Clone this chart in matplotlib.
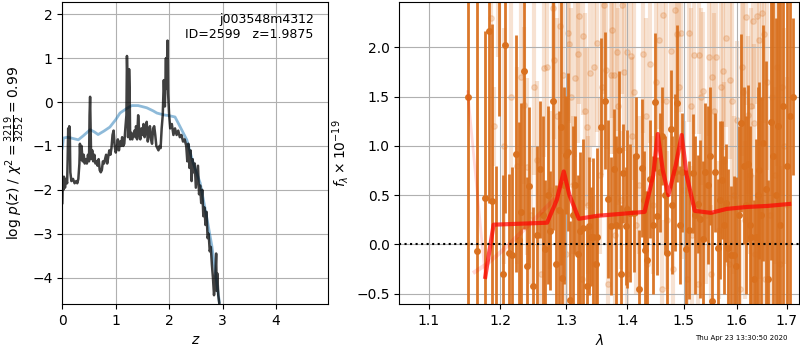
import numpy as np
import matplotlib
matplotlib.use('Agg')
import matplotlib.pyplot as plt
from matplotlib.ticker import ScalarFormatter, NullLocator, FixedLocator

# ---- p(z) panel ----
z_chi = [0.00, 0.01, 0.02, 0.03, 0.05, 0.07, 0.09, 0.10, 0.11, 0.12, 0.13, 0.14, 0.15, 0.17,
         0.20, 0.23, 0.26, 0.28, 0.30, 0.32, 0.33, 0.34, 0.36, 0.38, 0.40, 0.42, 0.44, 0.46,
         0.48, 0.50, 0.51, 0.52, 0.53, 0.54, 0.56, 0.58, 0.60, 0.62, 0.64, 0.66, 0.68, 0.70,
         0.72, 0.74, 0.76, 0.78, 0.80, 0.82, 0.84, 0.86, 0.88, 0.90, 0.92, 0.94, 0.96, 0.98,
         1.00, 1.02, 1.04, 1.06, 1.08, 1.10, 1.12, 1.14, 1.16, 1.18, 1.20, 1.21, 1.22, 1.23,
         1.24, 1.25, 1.26, 1.27, 1.29, 1.31, 1.33, 1.35, 1.37, 1.38, 1.40, 1.42, 1.44, 1.46,
         1.48, 1.50, 1.52, 1.54, 1.56, 1.58, 1.60, 1.62, 1.64, 1.66, 1.68, 1.70, 1.72, 1.74,
         1.76, 1.78, 1.80, 1.82, 1.84, 1.86, 1.88, 1.90, 1.92, 1.94, 1.95, 1.97, 1.98, 2.00,
         2.02, 2.05, 2.08, 2.11, 2.14, 2.17, 2.20, 2.23, 2.26, 2.29, 2.32, 2.34, 2.36, 2.38,
         2.40, 2.42, 2.44, 2.46, 2.48, 2.50, 2.52, 2.54, 2.56, 2.58, 2.60, 2.62, 2.64, 2.66,
         2.68, 2.70, 2.72, 2.74, 2.76, 2.78, 2.80, 2.82, 2.84, 2.86, 2.88, 2.89, 2.90, 2.92, 2.94]
logp = [-2.30, -1.75, -2.00, -1.70, -1.95, -1.75, -1.85, -1.30, -0.60, -1.10, -0.55, -0.70, -1.60, -1.80,
        -1.75, -1.85, -1.80, -1.85, -1.75, -1.40, -0.95, -1.30, -1.00, -1.35, -1.20, -1.40, -1.30, -1.40,
        -1.20, -1.35, -0.30, 0.12, -0.60, -1.30, -1.10, -1.35, -1.20, -1.40, -1.35, -1.45, -1.30, -1.55,
        -1.60, -1.55, -1.35, -1.40, -1.30, -1.20, -1.40, -1.25, -1.10, -1.20, -1.05, -0.75, -0.65, -1.00,
        -1.15, -1.05, -0.85, -1.10, -0.90, -1.00, -0.80, -1.00, -0.95, -0.60, -0.30, 1.05, 0.50, -0.80,
        -0.55, 0.75, 0.30, -0.85, -0.70, -0.85, -0.75, -0.65, -0.80, -0.55, -0.85, -0.30, -0.70, -0.85,
        -0.60, -0.75, -0.50, -0.80, -0.65, -0.45, -0.90, -0.70, -0.55, -0.85, -0.95, -0.60, -0.55, -0.75,
        -1.00, -1.05, -1.10, -1.00, -1.05, -0.60, -0.30, 0.50, -0.10, 1.00, 0.30, 1.40, 0.20, -0.30,
        -0.60, -0.50, -0.75, -0.60, -0.75, -0.65, -0.80, -0.75, -0.90, -0.85, -1.00, -1.35, -0.95, -1.50,
        -1.10, -1.80, -1.30, -1.60, -1.40, -1.95, -1.70, -1.45, -2.10, -1.90, -2.30, -2.00, -2.60, -2.40,
        -2.80, -2.50, -3.10, -3.00, -3.40, -3.30, -3.70, -4.00, -4.40, -4.10, -3.45, -4.30, -3.90, -4.40, -4.60]

z_prior = [0.00, 0.02, 0.10, 0.20, 0.30, 0.40, 0.52, 0.60, 0.67, 0.78, 0.89, 1.00, 1.08, 1.20, 1.30,
           1.42, 1.58, 1.70, 1.77, 1.89, 2.00, 2.11, 2.20, 2.33, 2.45, 2.58, 2.70, 2.80, 2.89, 2.94]
logp_prior = [-1.05, -0.82, -0.80, -0.83, -0.86, -0.76, -0.63, -0.68, -0.74, -0.66, -0.57, -0.40, -0.25, -0.15, -0.08,
              -0.08, -0.13, -0.20, -0.25, -0.29, -0.31, -0.34, -0.55, -0.86, -1.39, -1.84, -2.60, -3.28, -4.11, -4.56]

# ---- spectrum panel ----
wave1 = [1.153, 1.166, 1.178, 1.184, 1.188, 1.193, 1.198, 1.203, 1.207, 1.212, 1.217, 1.223, 1.228, 1.231,
         1.235, 1.240, 1.243, 1.248, 1.254, 1.259, 1.263, 1.267, 1.271, 1.275, 1.279, 1.284, 1.288, 1.291,
         1.293, 1.297, 1.300, 1.303, 1.306, 1.310, 1.314, 1.318, 1.322, 1.327, 1.333, 1.337, 1.340, 1.343,
         1.348, 1.350, 1.356, 1.362, 1.367, 1.372, 1.378, 1.381, 1.386, 1.390, 1.393, 1.398, 1.400, 1.405,
         1.411, 1.415, 1.420, 1.425, 1.429, 1.431, 1.434, 1.439, 1.444, 1.448, 1.451, 1.457, 1.461, 1.466,
         1.470, 1.476, 1.479, 1.483, 1.488, 1.492, 1.496, 1.503, 1.510, 1.516, 1.521, 1.526, 1.529, 1.535,
         1.539, 1.545, 1.549, 1.553, 1.557, 1.563, 1.568, 1.571, 1.575, 1.579, 1.583, 1.588, 1.594, 1.599,
         1.604, 1.608, 1.613, 1.617, 1.621, 1.625, 1.628, 1.634, 1.637, 1.641, 1.644, 1.648, 1.651, 1.657,
         1.661, 1.667, 1.672, 1.677, 1.682, 1.687, 1.693, 1.700, 1.706, 1.712]
flux1 = [1.50, -0.07, 0.47, 2.17, 0.44, -0.90, 2.60, -0.30, 2.02, -0.09, -0.11, 0.92, 0.04, 0.33,
         1.76, -0.22, 0.59, -0.42, 0.10, 0.76, 0.30, -0.05, 0.50, 0.14, 1.45, -0.20, 0.35, 1.19,
         -0.34, 0.60, 0.91, 0.94, -0.56, 0.30, 0.60, -0.10, 0.14, 0.17, -0.42, 0.19, 0.08, 0.08,
         -0.20, 0.08, 1.19, 1.46, 0.46, 0.19, 0.77, 0.20, 0.96, -0.30, 0.72, 0.19, 0.36, 0.32,
         0.32, 0.90, -0.45, 0.78, 0.45, -0.06, -0.16, 0.66, 0.20, 1.44, 0.29, 0.73, 1.10, 0.50,
         -0.09, 1.17, 0.40, 0.73, 1.43, 0.20, 0.73, -0.05, 0.15, 0.72, 0.30, 0.41, 0.26, 0.05,
         0.73, 0.60, 0.90, -0.57, 0.73, -0.04, 0.45, 0.65, 0.20, 0.42, -0.04, -0.11, -0.11, -0.22,
         0.30, 1.23, 0.80, 0.40, 0.82, 0.20, 0.08, -0.35, 0.07, 0.50, 0.75, 0.30, 1.03, 0.56,
         -0.35, 1.24, 0.90, 0.50, 1.20, 0.20, 1.40, 0.80, 1.30, 1.50]
err1 = [2.3, 2.6, 1.7, 1.75, 1.8, 1.7, 1.3, 1.0, 1.7, 0.8, 0.9, 1.2, 1.2, 1.1,
        1.6, 0.9, 0.8, 0.8, 0.9, 0.7, 1.0, 0.7, 0.9, 0.6, 1.3, 0.8, 1.0, 1.4,
        0.7, 1.0, 0.6, 0.8, 0.8, 0.9, 0.7, 0.8, 0.8, 0.9, 0.6, 0.7, 0.5, 0.8,
        0.5, 0.9, 0.9, 0.7, 0.8, 0.7, 0.6, 0.9, 0.8, 0.7, 0.5, 0.6, 0.8, 0.7,
        0.6, 0.6, 0.6, 0.7, 0.5, 0.6, 0.7, 0.6, 0.7, 0.7, 0.6, 0.6, 0.5, 0.6,
        0.6, 0.6, 0.7, 0.8, 0.8, 0.6, 0.6, 0.8, 0.7, 0.6, 0.8, 0.5, 0.8, 0.8,
        0.7, 0.8, 0.7, 0.9, 0.6, 0.7, 0.8, 0.6, 0.7, 0.6, 0.8, 0.7, 0.8, 0.9,
        0.9, 0.9, 0.8, 0.9, 0.8, 1.0, 0.7, 0.8, 1.0, 1.1, 0.9, 1.2, 1.2, 1.3,
        1.0, 1.4, 1.6, 1.8, 2.0, 2.5, 2.5, 2.0, 2.5, 0.8]

wave2 = [1.186, 1.190, 1.196, 1.205, 1.215, 1.225, 1.231, 1.235, 1.240, 1.245, 1.254, 1.260, 1.266, 1.270,
         1.275, 1.279, 1.281, 1.290, 1.295, 1.300, 1.302, 1.304, 1.310, 1.314, 1.318, 1.321, 1.325, 1.327,
         1.333, 1.335, 1.338, 1.344, 1.345, 1.350, 1.355, 1.361, 1.365, 1.368, 1.372, 1.375, 1.378, 1.380,
         1.382, 1.390, 1.391, 1.394, 1.399, 1.400, 1.406, 1.409, 1.415, 1.420, 1.427, 1.435, 1.439, 1.445,
         1.455, 1.460, 1.463, 1.470, 1.476, 1.480, 1.484, 1.488, 1.494, 1.500, 1.505, 1.509, 1.515, 1.519,
         1.525, 1.528, 1.535, 1.540, 1.546, 1.550, 1.552, 1.560, 1.565, 1.573, 1.575, 1.579, 1.585, 1.587,
         1.595, 1.600, 1.605, 1.610, 1.615, 1.617, 1.622, 1.625, 1.631, 1.634, 1.635, 1.640, 1.643, 1.645,
         1.649, 1.654, 1.655, 1.665, 1.675, 1.685, 1.695, 1.700,
         1.250, 1.285, 1.308, 1.330, 1.358, 1.385, 1.412, 1.432, 1.450, 1.467, 1.491, 1.513, 1.532,
         1.556, 1.569, 1.591, 1.612, 1.628, 1.660, 1.670, 1.680, 1.690]
flux2 = [2.30, 1.20, 2.50, 1.00, 1.50, 0.80, 1.70, 1.41, 0.79, 0.30, 0.86, -0.30, 1.79, 1.80,
         0.55, 2.40, 1.87, 2.22, 1.72, -0.10, 2.15, 2.03, 0.60, 1.69, 1.93, 2.32, -0.35, 2.11,
         1.19, 0.40, 1.74, 1.80, -0.20, 2.04, 0.70, 2.43, 1.77, -0.40, 1.72, 2.18, 1.72, 0.10,
         1.95, 0.45, 2.43, 1.75, 1.95, -0.30, 1.91, 1.10, 0.20, 0.60, 1.93, -0.20, 1.83, 0.40,
         2.07, -0.45, 2.33, 0.25, 1.96, -0.25, 2.38, 2.13, 2.14, 0.55, -0.35, 2.14, 0.10, 1.92,
         -0.40, 1.92, 1.56, 0.30, 1.90, -0.30, 1.70, 1.90, 0.15, 1.76, 0.85, 2.09, -0.20, 1.67,
         0.50, 1.26, -0.45, 1.80, 0.25, 2.31, 1.31, 0.70, 2.27, 1.23, -0.10, 2.32, 2.07, 0.45,
         2.35, 2.13, -0.35, 0.30, 0.70, -0.20, 1.00, 0.40,
         1.60, 1.30, 1.50, 1.35, 1.60, 1.40, 1.55, 1.30, 1.65, 1.45, 1.60, 1.40, 1.50,
         1.35, 1.60, 1.45, 1.55, 1.40, 1.65, 1.50, 1.80, 1.60]
err2 = [0.3, 0.4, 0.6, 1.2, 1.0, 1.0, 0.9, 0.8, 0.9, 0.7, 0.8, 0.8, 0.9, 0.8,
        0.8, 0.9, 0.8, 0.9, 0.8, 0.8, 0.9, 0.8, 0.7, 0.8, 0.9, 0.9, 0.8, 0.8,
        0.8, 0.7, 0.9, 0.8, 0.7, 0.9, 0.8, 0.9, 0.8, 0.7, 0.8, 0.9, 0.8, 0.7,
        0.8, 0.7, 0.9, 0.8, 0.8, 0.7, 0.9, 0.8, 0.7, 0.7, 0.8, 0.7, 0.8, 0.7,
        0.9, 0.7, 0.9, 0.7, 0.8, 0.7, 0.9, 0.8, 0.8, 0.7, 0.7, 0.9, 0.7, 0.8,
        0.7, 0.8, 0.8, 0.7, 0.8, 0.7, 0.8, 0.9, 0.7, 0.8, 0.8, 0.9, 0.7, 0.8,
        0.8, 0.8, 0.7, 0.9, 0.8, 0.9, 0.8, 0.8, 0.9, 0.8, 0.8, 0.9, 0.9, 0.8,
        0.9, 0.9, 0.8, 0.9, 0.9, 1.0, 1.2, 1.3,
        0.9, 1.0, 0.9, 1.0, 0.9, 1.0, 0.9, 1.0, 0.9, 1.0, 0.9, 1.0, 0.9,
        1.0, 0.9, 1.0, 0.9, 1.0, 0.9, 1.0, 1.0, 1.1]

model_wave = [1.178, 1.190, 1.230, 1.270, 1.285, 1.296, 1.305, 1.320, 1.350, 1.390, 1.430, 1.445,
              1.453, 1.462, 1.472, 1.485, 1.496, 1.505, 1.520, 1.550, 1.580, 1.620, 1.660, 1.705]
model_flux = [-0.33, 0.20, 0.21, 0.22, 0.45, 0.74, 0.50, 0.26, 0.29, 0.31, 0.33, 0.70,
              1.12, 0.75, 0.50, 0.80, 1.11, 0.70, 0.34, 0.32, 0.36, 0.38, 0.39, 0.41]
model2_wave = [1.163, 1.180, 1.200, 1.220, 1.250, 1.280]
model2_flux = [-0.28, -0.20, -0.08, 0.05, 0.25, 0.45]
edge_wave = [1.153, 1.178]
edge_flux = [1.55, -0.33]

fig = plt.figure(figsize=(8, 3.5), dpi=100)
ax1 = fig.add_axes([0.0779, 0.1314, 0.3325, 0.863])
ax2 = fig.add_axes([0.4991, 0.1314, 0.5, 0.863])

ax1.plot(z_prior, logp_prior, color='tab:blue', alpha=0.5, lw=2)
ax1.plot(z_chi, logp, color='k', alpha=0.75, lw=1.8)
ax1.set_xlim(0, 4.98)
ax1.set_ylim(-4.6, 2.28)
ax1.grid()
ax1.set_xlabel(r'$z$')
ax1.set_ylabel(r'$\log\,p(z)$ / $\chi^2=\frac{3219}{3252}=0.99$')
ax1.text(0.945, 0.965, 'j003548m4312\nID=2599   z=1.9875', ha='right', va='top',
         transform=ax1.transAxes, fontsize=9)

c = '#d9701e'
ax2.errorbar(wave2, flux2, yerr=err2, fmt='o', ms=4, color=c, alpha=0.2, elinewidth=3, zorder=1)
ax2.errorbar(wave1, flux1, yerr=err1, fmt='o', ms=4, color=c, alpha=0.95, elinewidth=2, zorder=2)
ax2.plot(edge_wave, edge_flux, color='r', alpha=0.15, lw=2, zorder=3)
ax2.plot(model2_wave, model2_flux, color='r', alpha=0.15, lw=3, zorder=3)
ax2.plot(model_wave, model_flux, color='r', alpha=0.7, lw=3, zorder=4)
ax2.axhline(0, color='k', linestyle=':', lw=1.5, zorder=5)

ax2.set_xscale('log')
ax2.xaxis.set_major_locator(FixedLocator([1.1, 1.2, 1.3, 1.4, 1.5, 1.6, 1.7]))
ax2.xaxis.set_major_formatter(ScalarFormatter())
ax2.xaxis.set_minor_locator(NullLocator())
ax2.set_xlim(1.061, 1.726)
ax2.set_ylim(-0.605, 2.46)
ax2.grid()
ax2.set_xlabel(r'$\lambda$')
ax2.set_ylabel(r'$f_\lambda\times10^{-19}$')

fig.text(0.985, 0.025, 'Thu Apr 23 13:30:50 2020', ha='right', va='bottom', fontsize=5)

fig.savefig('out.png', dpi=100)
